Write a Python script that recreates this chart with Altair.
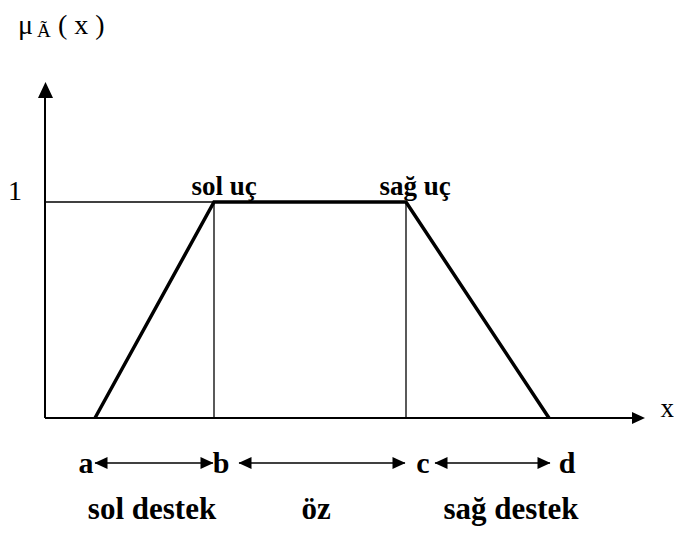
import altair as alt
import pandas as pd

# ---- data (picture units) ----
point_names = ["a", "b", "c", "d"]
point_x = [95, 214, 406, 549]          # a, b, c, d on the x axis
membership = [0, 1, 1, 0]              # trapezoid membership values
peak_labels = ["sol uç", "sağ uç"]
peak_label_x = [224, 415]
span_labels = ["sol destek", "öz", "sağ destek"]
span_label_x = [152, 316, 511]
# double arrows between the points (left tip, right tip)
span_left = [95, 239, 435]
span_right = [213, 405, 550]
letter_x = [86, 221, 423, 567]

W, H = 666, 519
PX0, PX1 = 8, 674
# y scale: membership 0 at page y 418, membership 1 at page y 202
D = 519.0 / 216.0
HI = 410 * D / 519.0
LO = HI - D

def m(py):
    """page y pixel -> membership units"""
    return HI - (py - 8) * D / 519.0

xs = alt.Scale(domain=[PX0, PX1], nice=False, zero=False)
ys = alt.Scale(domain=[LO, HI], nice=False, zero=False)
X = lambda f: alt.X(f, type="quantitative", scale=xs, axis=None)
Y = lambda f: alt.Y(f, type="quantitative", scale=ys, axis=None)

FONT = "Liberation Serif"

# axes lines
axes_df = pd.DataFrame({
    "x": [45, 45], "x2": [45, 636],
    "y": [0, 0], "y2": [m(95), 0],
})
axes = alt.Chart(axes_df).mark_rule(color="black", strokeWidth=2).encode(
    x=X("x"), x2="x2", y=Y("y"), y2="y2")

# thin guide lines
guide_df = pd.DataFrame({
    "x": [45, point_x[1], point_x[2]],
    "x2": [point_x[1], point_x[1], point_x[2]],
    "y": [1, 0, 0],
    "y2": [1, 1, 1],
})
guides = alt.Chart(guide_df).mark_rule(color="black", strokeWidth=1.3).encode(
    x=X("x"), x2="x2", y=Y("y"), y2="y2")

# trapezoid
trap_df = pd.DataFrame({"x": point_x, "mu": membership, "o": [0, 1, 2, 3]})
trap = alt.Chart(trap_df).mark_line(color="black", strokeWidth=3.5, strokeJoin="miter").encode(
    x=X("x"), y=Y("mu"), order="o:O")

# arrowheads
UP = "M0,-1L-0.94,1L0.94,1Z"
RIGHT = "M1,0L-1,-0.92L-1,0.92Z"
LEFT = "M-1,0L1,-0.92L1,0.92Z"

def head(df, shape, size):
    return alt.Chart(df).mark_point(shape=shape, filled=True, size=size, color="black",
                                    opacity=1, strokeWidth=0).encode(x=X("x"), y=Y("y"))

y_head = head(pd.DataFrame({"x": [45.5], "y": [m(90)]}), UP, 256)
x_head = head(pd.DataFrame({"x": [638.5], "y": [0]}), RIGHT, 169)

row_y = m(463)
span_df = pd.DataFrame({"x": span_left, "x2": span_right, "y": [row_y] * 3})
span_lines = alt.Chart(span_df).mark_rule(color="black", strokeWidth=1.5).encode(
    x=X("x"), x2="x2", y=Y("y"))
left_heads = head(pd.DataFrame({"x": [v + 6 for v in span_left], "y": [row_y] * 3}), LEFT, 169)
right_heads = head(pd.DataFrame({"x": [v - 6 for v in span_right], "y": [row_y] * 3}), RIGHT, 169)

def text(df, size, weight="bold", align="center"):
    return alt.Chart(df).mark_text(font=FONT, fontSize=size, fontWeight=weight, align=align,
                                   baseline="alphabetic", color="black").encode(
        x=X("x"), y=Y("y"), text="t:N")

letters = text(pd.DataFrame({"x": letter_x, "y": [m(473)] * 4, "t": point_names}), 30)
peaks = text(pd.DataFrame({"x": peak_label_x, "y": [m(195)] * 2, "t": peak_labels}), 27)
spans = text(pd.DataFrame({"x": span_label_x, "y": [m(519)] * 3, "t": span_labels}), 31)
one = text(pd.DataFrame({"x": [15], "y": [m(200)], "t": ["1"]}), 28, "normal")
xlab = text(pd.DataFrame({"x": [674], "y": [m(417)], "t": ["x"]}), 27, "normal", "right")
mu_lab = text(pd.DataFrame({"x": [18], "y": [m(34)], "t": ["μ"]}), 28, "normal", "left")
a_lab = text(pd.DataFrame({"x": [37], "y": [m(37)], "t": ["Ã"]}), 19, "normal", "left")
fx_lab = text(pd.DataFrame({"x": [58], "y": [m(34)], "t": ["( x )"]}), 28, "normal", "left")

chart = alt.layer(
    axes, guides, trap, y_head, x_head, span_lines, left_heads, right_heads,
    letters, peaks, spans, one, xlab, mu_lab, a_lab, fx_lab,
).properties(
    width=W, height=H, padding=0, autosize=alt.AutoSizeParams(type="none"),
    background="white",
).configure_view(stroke=None)

chart.save("out.html", embed_options={"renderer": "svg", "actions": False})
